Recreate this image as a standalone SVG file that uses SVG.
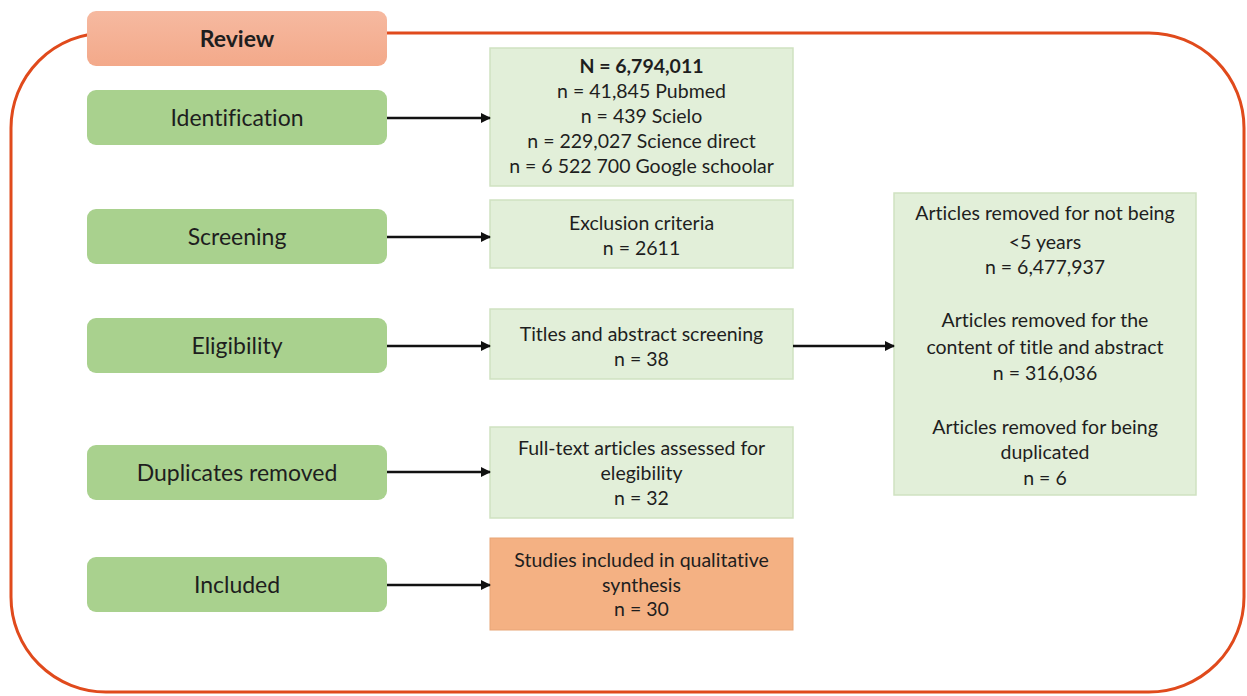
<svg xmlns="http://www.w3.org/2000/svg" width="1247" height="696" viewBox="0 0 1247 696">
<defs>
<style>
.lbl{fill:#a9d18e;}
.res{fill:#e2efd9;stroke:#cfe2c1;stroke-width:1.5;}
.inc{fill:#f4b183;stroke:#e8a577;stroke-width:1;}
.t{font-family:Lato,"Open Sans",sans-serif;fill:#1e1e1e;text-anchor:middle;font-variant-ligatures:none;}
.big{font-size:23px;}
.sm{font-size:19.5px;}
.conn{stroke:#111;stroke-width:2.5;fill:none;marker-end:url(#ah);}
</style>
<marker id="ah" viewBox="0 0 10 10" refX="9" refY="5" markerWidth="4" markerHeight="4" orient="auto" markerUnits="strokeWidth">
<path d="M0,0 L10,5 L0,10 z" fill="#111"/>
</marker>
<linearGradient id="rg" x1="0" y1="0" x2="0" y2="1">
<stop offset="0" stop-color="#f6b9a0"/>
<stop offset="1" stop-color="#f3a98a"/>
</linearGradient>
</defs>
<rect width="1247" height="696" fill="#ffffff"/>
<g id="frame">
<rect x="11" y="33" width="1233" height="659" rx="95" ry="95" fill="none" stroke="#e04a1c" stroke-width="3"/>
</g>
<g id="review">
<rect x="87" y="11" width="300" height="55" rx="9" fill="url(#rg)"/>
<text class="t big" x="237" y="47" font-weight="bold">Review</text>
</g>
<g id="identification">
<rect class="lbl" x="87" y="90" width="300" height="55" rx="9"/>
<text class="t big" x="237" y="126">Identification</text>
</g>
<g id="screening">
<rect class="lbl" x="87" y="209" width="300" height="55" rx="9"/>
<text class="t big" x="237" y="245">Screening</text>
</g>
<g id="eligibility">
<rect class="lbl" x="87" y="318" width="300" height="55" rx="9"/>
<text class="t big" x="237" y="354">Eligibility</text>
</g>
<g id="duplicates">
<rect class="lbl" x="87" y="445" width="300" height="55" rx="9"/>
<text class="t big" x="237" y="481">Duplicates removed</text>
</g>
<g id="included">
<rect class="lbl" x="87" y="557" width="300" height="55" rx="9"/>
<text class="t big" x="237" y="593">Included</text>
</g>
<g id="id-result">
<rect class="res" x="490" y="48" width="303" height="138"/>
<text class="t sm" x="641.500" y="73" font-weight="bold">N = 6,794,011</text>
<text class="t sm" x="641.500" y="98">n = 41,845 Pubmed</text>
<text class="t sm" x="641.500" y="123">n = 439 Scielo</text>
<text class="t sm" x="641.500" y="148">n = 229,027 Science direct</text>
<text class="t sm" x="641.500" y="173">n = 6 522 700 Google schoolar</text>
</g>
<g id="screen-result">
<rect class="res" x="490" y="200" width="303" height="68"/>
<text class="t sm" x="641.500" y="230">Exclusion criteria</text>
<text class="t sm" x="641.500" y="255">n = 2611</text>
</g>
<g id="elig-result">
<rect class="res" x="490" y="309" width="303" height="70"/>
<text class="t sm" x="641.500" y="341">Titles and abstract screening</text>
<text class="t sm" x="641.500" y="366">n = 38</text>
</g>
<g id="fulltext">
<rect class="res" x="490" y="427" width="303" height="91"/>
<text class="t sm" x="641.500" y="455">Full-text articles assessed for</text>
<text class="t sm" x="641.500" y="480">elegibility</text>
<text class="t sm" x="641.500" y="505">n = 32</text>
</g>
<g id="studies">
<rect class="inc" x="490" y="538" width="303" height="92"/>
<text class="t sm" x="641.500" y="567">Studies included in qualitative</text>
<text class="t sm" x="641.500" y="592">synthesis</text>
<text class="t sm" x="641.500" y="616">n = 30</text>
</g>
<g id="removed">
<rect class="res" x="894" y="193" width="302" height="302"/>
<text class="t sm" x="1045" y="220">Articles removed for not being</text>
<text class="t sm" x="1045" y="249">&lt;5 years</text>
<text class="t sm" x="1045" y="274">n = 6,477,937</text>
<text class="t sm" x="1045" y="327">Articles removed for the</text>
<text class="t sm" x="1045" y="354">content of title and abstract</text>
<text class="t sm" x="1045" y="380">n = 316,036</text>
<text class="t sm" x="1045" y="434">Articles removed for being</text>
<text class="t sm" x="1045" y="459">duplicated</text>
<text class="t sm" x="1045" y="485">n = 6</text>
</g>
<g id="connectors">
<line class="conn" x1="387" y1="118" x2="490" y2="118"/>
<line class="conn" x1="387" y1="237" x2="490" y2="237"/>
<line class="conn" x1="387" y1="346" x2="490" y2="346"/>
<line class="conn" x1="387" y1="472" x2="490" y2="472"/>
<line class="conn" x1="387" y1="585" x2="490" y2="585"/>
<line class="conn" x1="793" y1="346" x2="894" y2="346"/>
</g>
</svg>
